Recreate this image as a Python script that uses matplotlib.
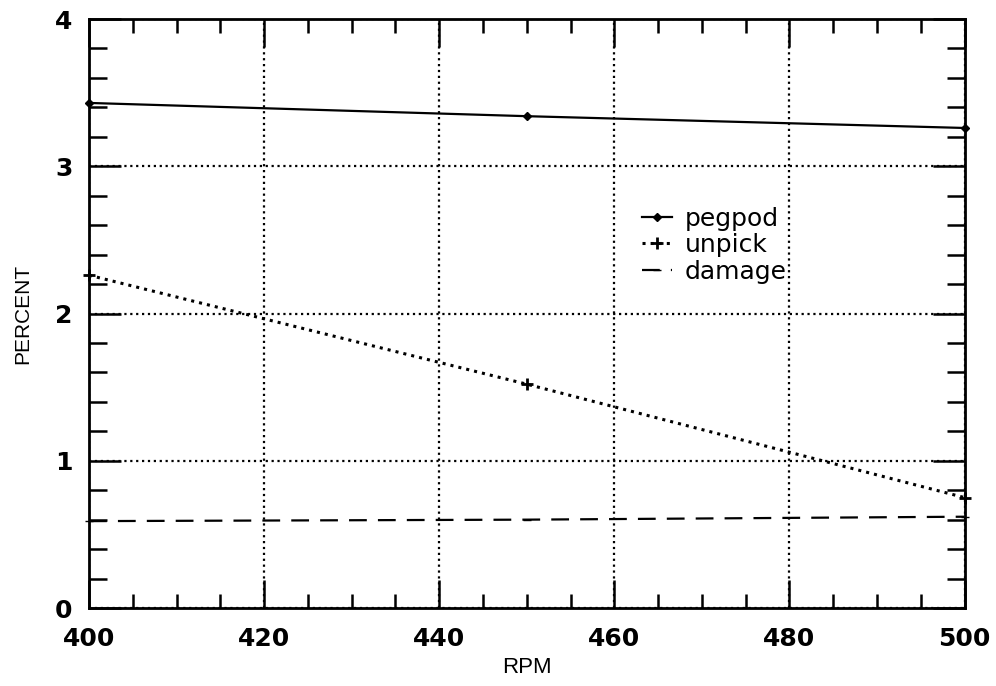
"""
Percent losses vs RPM
"""

import numpy as np
import matplotlib
matplotlib.use('Agg')
import matplotlib.pyplot as plt
from matplotlib.ticker import MultipleLocator

rpm = [400, 450, 500]
pegpod = [3.43, 3.34, 3.26]
unpick = [2.26, 1.52, 0.75]
damage = [0.59, 0.60, 0.62]

xticks = [400, 420, 440, 460, 480, 500]
yticks = [0, 1, 2, 3, 4]

plt.rcParams['font.family'] = ['DejaVu Sans']

fig = plt.figure(figsize=(9.96, 6.86), dpi=100)
ax = fig.add_axes([0.0894, 0.1137, 0.879, 0.8586])

ax.plot(rpm, pegpod, '-', color='black', lw=1.6, marker='D', ms=4, clip_on=False, label='pegpod')
ax.plot(rpm, unpick, ':', color='black', lw=2.2, marker='+', ms=8, mew=2, clip_on=False, label='unpick')
ax.plot(rpm, damage, '--', color='black', lw=1.6, dashes=(8, 5), marker='_', ms=6, clip_on=False, label='damage')

ax.set_xlim(400, 500)
ax.set_ylim(0, 4)
ax.set_xticks(xticks)
ax.set_yticks(yticks)
ax.xaxis.set_minor_locator(MultipleLocator(5))
ax.yaxis.set_minor_locator(MultipleLocator(0.2))

ax.grid(True, which='major', linestyle=':', color='black', lw=1.6)
for s in ax.spines.values():
  s.set_linewidth(2)

ax.tick_params(axis='x', which='both', direction='in', top=True, bottom=True,
               width=1.8, labelsize=18, pad=14)
ax.tick_params(axis='x', which='minor', length=10)
ax.tick_params(axis='x', which='major', length=20)
ax.tick_params(axis='y', which='both', direction='in', left=True, right=True,
               width=1.8, labelsize=18, pad=12)
ax.tick_params(axis='y', which='minor', length=13)
ax.tick_params(axis='y', which='major', length=23)
for lab in ax.get_xticklabels() + ax.get_yticklabels():
  lab.set_fontweight('bold')

ax.set_xlabel('RPM', fontsize=16, labelpad=4, family='Liberation Sans')
ax.set_ylabel('PERCENT', fontsize=15, labelpad=16, family='Liberation Sans')

ax.legend(loc='center left', bbox_to_anchor=(0.632, 0.616), frameon=False,
          fontsize=18, handlelength=1.2, handletextpad=0.5,
          labelspacing=0.1, borderaxespad=0, borderpad=0)

fig.savefig('out.png', dpi=100)
